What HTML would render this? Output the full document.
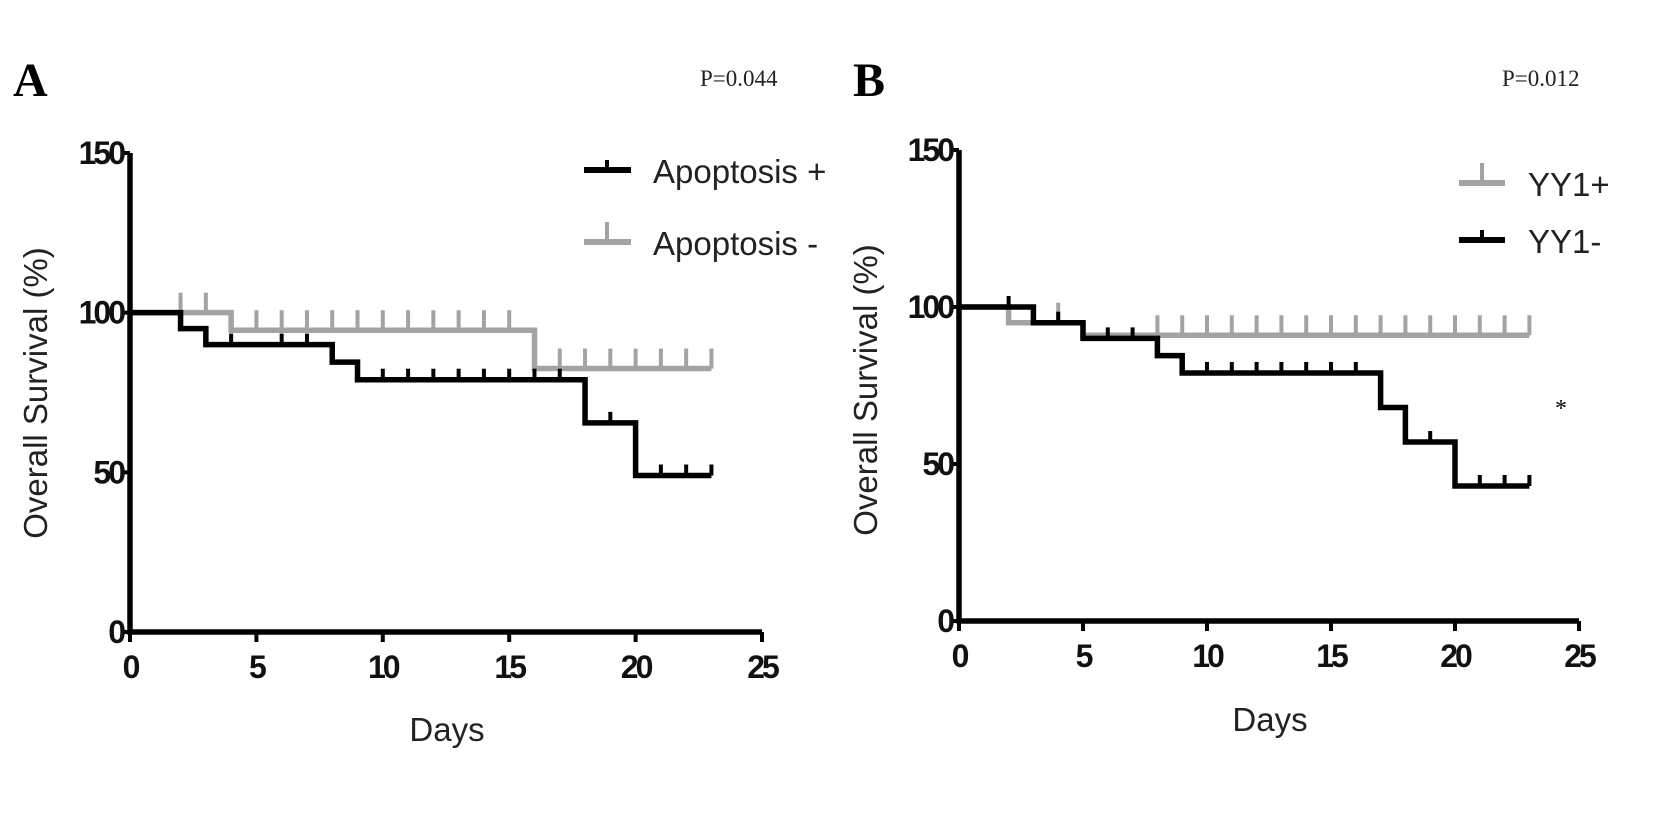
<!DOCTYPE html>
<html><head><meta charset="utf-8"><style>
body{margin:0;background:#fff}
svg{display:block}
text{font-family:"Liberation Sans",Arial,sans-serif}
</style></head><body>
<svg id="c" width="1654" height="833"></svg>
<script>
// Panel A data
const aDays=[0,5,10,15,20,25];
const aYTicks=[0,50,100,150];
const aPosTimes=[0,2,3,8,9,18,20,23];
const aPosSurv=[100,95,90,84.5,79,65.5,49,49];
const aPosCens=[4,6,7,10,11,12,13,14,15,16,17,19,21,22,23];
const aNegTimes=[0,4,16,23];
const aNegSurv=[100,94.5,82.5,82.5];
const aNegCens=[2,3,5,6,7,8,9,10,11,12,13,14,15,17,18,19,20,21,22,23];
// Panel B data
const bPosTimes=[0,2,5,23];
const bPosSurv=[100,95,91,91];
const bPosCens=[4,8,9,10,11,12,13,14,15,16,17,18,19,20,21,22,23];
const bNegTimes=[0,3,5,8,9,17,18,20,23];
const bNegSurv=[100,95,90,84.5,79,68,57,43,43];
const bNegCens=[2,4,6,7,10,11,12,13,14,15,16,19,21,22,23];

const NS="http://www.w3.org/2000/svg";
const svg=document.getElementById('c');
function el(t,a,p){const e=document.createElementNS(NS,t);for(const k in a)e.setAttribute(k,a[k]);(p||svg).appendChild(e);return e;}
function txt(s,a,p){const e=el('text',a,p);e.textContent=s;return e;}

function survAt(times,surv,t){let v=surv[0];for(let i=0;i<times.length;i++){if(times[i]<=t)v=surv[i];}return v;}

function panel(o){
  const g=el('g',{});
  
  
  const X=d=>o.x0+(o.x1-o.x0)*d/25;
  const Y=v=>o.y0+(o.y1-o.y0)*v/150;
  function series(times,surv,cens,color,len,name){
    let d='M'+X(times[0])+','+Y(surv[0]);
    for(let i=1;i<times.length;i++){d+=' H'+X(times[i])+' V'+Y(surv[i]);}
    const p=el('path',{d:d,fill:'none',stroke:color,'stroke-width':5.5,'stroke-linejoin':'miter'},g);
    
    
    cens.forEach(t=>{
      const v=survAt(times,surv,t);
      const l=el('line',{x1:X(t),x2:X(t),y1:Y(v),y2:Y(v)-len,stroke:color,'stroke-width':4},g);
      
      
    });
  }
  o.series.forEach(s=>series(s.t,s.s,s.c,s.color,s.len,s.name));
  const ax=el('path',{d:`M${o.x0},${Y(150)} V${o.y0} H${X(25)}`,fill:'none',stroke:'#000','stroke-width':5.5},g);
  
  
  aYTicks.forEach(v=>{
    el('line',{x1:o.x0-9,x2:o.x0,y1:Y(v),y2:Y(v),stroke:'#000','stroke-width':4},g);
    const t=txt(String(v),{x:o.x0-7,y:Y(v)+11,'text-anchor':'end','font-size':32,'font-weight':'bold','letter-spacing':-3,fill:'#111'},g);
    
    
  });
  aDays.forEach(d=>{
    el('line',{x1:X(d),x2:X(d),y1:o.y0,y2:o.y0+10,stroke:'#000','stroke-width':4},g);
    const t=txt(String(d),{x:X(d),y:o.y0+46,'text-anchor':'middle','font-size':32,'font-weight':'bold','letter-spacing':-3,fill:'#111'},g);
    
    
  });
}

panel({name:'panel-a',x0:130,x1:762,y0:632,y1:153,series:[
 {t:aNegTimes,s:aNegSurv,c:aNegCens,color:'#a3a3a3',len:20,name:'apoptosis-neg'},
 {t:aPosTimes,s:aPosSurv,c:aPosCens,color:'#000',len:11,name:'apoptosis-pos'}]});
panel({name:'panel-b',x0:959,x1:1579,y0:621,y1:150,series:[
 {t:bPosTimes,s:bPosSurv,c:bPosCens,color:'#a3a3a3',len:20,name:'yy1-pos'},
 {t:bNegTimes,s:bNegSurv,c:bNegCens,color:'#000',len:11,name:'yy1-neg'}]});
</script>
<svg width="1654" height="833" style="position:absolute;left:0;top:0">
 <text x="13" y="96" font-size="48" font-weight="bold" style="font-family:'Liberation Serif',serif">A</text>
 <text x="853" y="96" font-size="48" font-weight="bold" style="font-family:'Liberation Serif',serif">B</text>
 <text x="700" y="86" font-size="23" style="font-family:'Liberation Serif',serif" fill="#222">P=0.044</text>
 <text x="1502" y="86" font-size="23" style="font-family:'Liberation Serif',serif" fill="#222">P=0.012</text>
 <text transform="translate(47,393) rotate(-90)" text-anchor="middle" font-size="33" fill="#222">Overall Survival (%)</text>
 <text transform="translate(877,390) rotate(-90)" text-anchor="middle" font-size="33" fill="#222">Overall Survival (%)</text>
 <text x="447" y="741" text-anchor="middle" font-size="33" fill="#222">Days</text>
 <text x="1270" y="731" text-anchor="middle" font-size="33" fill="#222">Days</text>
 <g>
  <line x1="584" x2="631" y1="170" y2="170" stroke="#000" stroke-width="6"/>
  <line x1="607" x2="607" y1="170" y2="160" stroke="#000" stroke-width="4"/>
  <text x="653" y="183" font-size="33" fill="#222">Apoptosis +</text>
  <line x1="584" x2="631" y1="242" y2="242" stroke="#a3a3a3" stroke-width="6"/>
  <line x1="607" x2="607" y1="242" y2="222" stroke="#a3a3a3" stroke-width="4"/>
  <text x="653" y="255" font-size="33" fill="#222">Apoptosis -</text>
 </g>
 <g>
  <line x1="1459" x2="1505" y1="183" y2="183" stroke="#a3a3a3" stroke-width="6"/>
  <line x1="1482" x2="1482" y1="183" y2="163" stroke="#a3a3a3" stroke-width="4"/>
  <text x="1528" y="196" font-size="33" fill="#222">YY1+</text>
  <line x1="1459" x2="1505" y1="240" y2="240" stroke="#000" stroke-width="6"/>
  <line x1="1482" x2="1482" y1="240" y2="230" stroke="#000" stroke-width="4"/>
  <text x="1528" y="253" font-size="33" fill="#222">YY1-</text>
 </g>
 <text x="1555" y="416" font-size="24" style="font-family:'Liberation Serif',serif">*</text>
</svg>
</body></html>
